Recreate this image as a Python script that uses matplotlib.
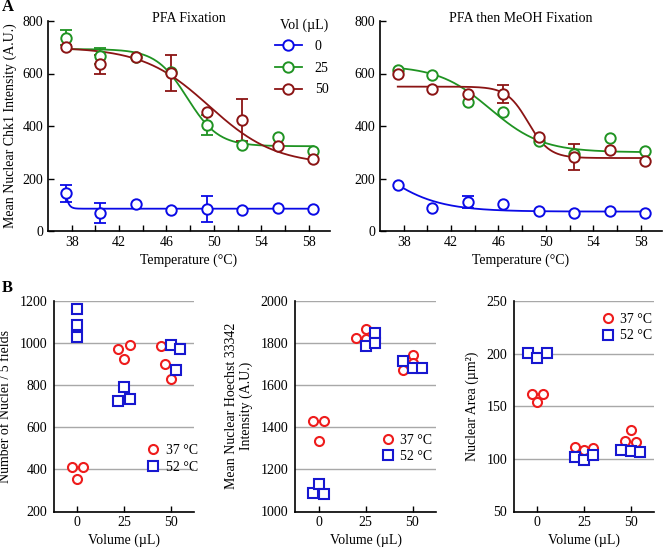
import numpy as np
import matplotlib
matplotlib.use("Agg")
import matplotlib.pyplot as plt
from matplotlib.lines import Line2D

plt.rcParams['font.family'] = ['Liberation Serif', 'DejaVu Serif']
plt.rcParams['font.size'] = 10

# ---- panel A data ----
temps = [37.5, 40.4, 43.4, 46.4, 49.4, 52.4, 55.4, 58.4]
vols = ['0', '25', '50']
colors_a = ['#0a0ae6', '#1f9322', '#8b1414']

# PFA fixation
pfa_mean = {
    '0': [144, 68, 104, 79, 85, 79, 86, 85],
    '25': [736, 667, 662, 605, 404, 326, 360, 303],
    '50': [701, 635, 662, 603, 452, 423, 324, 275],
}
pfa_err = {
    '0': [32, 38, 0, 0, 50, 0, 0, 0],
    '25': [28, 30, 0, 0, 37, 0, 0, 0],
    '50': [0, 37, 0, 68, 0, 80, 0, 0],
}
# Boltzmann fit parameters: top, bottom, Tm, slope
pfa_fit = {
    '0': [400, 85, 37.2, 0.2],
    '25': [693, 323, 47.74, 1.32],
    '50': [700, 252, 49.6, 2.8],
}

# PFA then MeOH fixation
meoh_mean = {
    '0': [176, 87, 110, 101, 75, 68, 75, 67],
    '25': [613, 594, 490, 455, 341, 295, 354, 303],
    '50': [597, 540, 521, 522, 360, 281, 307, 265],
}
meoh_err = {
    '0': [0, 0, 22, 0, 0, 0, 0, 0],
    '25': [0, 0, 0, 0, 0, 0, 0, 0],
    '50': [0, 0, 0, 35, 0, 50, 0, 0],
}
meoh_fit = {
    '0': [443, 74, 35.0, 2.6],
    '25': [630, 300, 45.3, 2.2],
    '50': [550, 278, 48.5, 0.9],
}

# ---- panel B data ----
nuc_x_37 = [-3, 3, 0, 22, 25, 28, 45, 47, 50]
nuc_37 = [410, 413, 354, 974, 926, 993, 988, 901, 828]
nuc_x_52 = [0, 0, 0, 22, 25, 28, 50, 53, 55]
nuc_52 = [1164, 1088, 1029, 725, 790, 733, 991, 874, 974]

hoe_x_37 = [-3, 3, 0, 20, 25, 25, 45, 50, 50]
hoe_37 = [1432, 1432, 1334, 1826, 1867, 1821, 1671, 1744, 1705]
hoe_x_52 = [-3, 0, 3, 25, 30, 30, 45, 50, 55]
hoe_52 = [1090, 1130, 1085, 1785, 1848, 1800, 1717, 1682, 1684]

area_x_37 = [-3, 0, 3, 20, 25, 30, 47, 50, 53]
area_37 = [161.8, 154.3, 161.8, 111.4, 108.3, 110.5, 117.4, 127.8, 116]
area_x_52 = [-5, 0, 5, 20, 25, 30, 45, 50, 55]
area_52 = [200.2, 195.5, 200.9, 102, 98.5, 104, 108, 107.6, 106.4]


def boltzmann(t, p):
    top, bottom, tm, s = p
    return bottom + (top - bottom) / (1 + np.exp((t - tm) / s))


fig = plt.figure(figsize=(6.63, 5.51), dpi=100)
W, H = 663.0, 551.0


def add_ax(l, r, top, bot):
    return fig.add_axes([l / W, 1 - bot / H, (r - l) / W, (bot - top) / H])


def panel_a(ax, means, errs, fits, title, ylabel=None, legend=False):
    t = np.array(temps)
    tt = np.linspace(t[0], t[-1], 300)
    for v, c in zip(vols, colors_a):
        ax.plot(tt, boltzmann(tt, fits[v]), color=c, lw=1.3, zorder=2)
        e = np.array(errs[v], dtype=float)
        m = e > 0
        if m.any():
            ax.errorbar(t[m], np.array(means[v])[m], yerr=e[m], fmt='none',
                        ecolor=c, elinewidth=1.3, capsize=4, capthick=1.3, zorder=3)
        ax.plot(t, means[v], 'o', ms=7.5, mfc='white', mec=c, mew=1.4,
                ls='none', zorder=4)
    ax.set_xlim(36, 59.8)
    ax.set_ylim(0, 800)
    ax.set_xticks([38, 42, 46, 50, 54, 58])
    ax.set_xticks([40, 44, 48, 52, 56], minor=True)
    ax.set_yticks([0, 200, 400, 600, 800])
    ax.tick_params(which='both', direction='in', length=4, width=1)
    ax.spines['top'].set_visible(False)
    ax.spines['right'].set_visible(False)
    for s in ['left', 'bottom']:
        ax.spines[s].set_linewidth(1.2)
    ax.set_xlabel('Temperature (°C)', labelpad=3)
    if ylabel:
        ax.set_ylabel(ylabel, labelpad=4)
    ax.text(0.5, 1.01, title, transform=ax.transAxes, ha='center', va='center')
    if legend:
        handles = [Line2D([], [], color=c, lw=1.3, marker='o', ms=7.5,
                          mfc='white', mec=c, mew=1.4) for c in colors_a]
        lg = ax.legend(handles, vols, title='Vol (µL)', frameon=False,
                       loc='upper right', bbox_to_anchor=(1.03, 1.06),
                       handlelength=2.0, handletextpad=0.9, labelspacing=0.62,
                       borderpad=0.2)
        lg._legend_box.align = 'right'


ax1 = add_ax(48, 330, 21, 231)
panel_a(ax1, pfa_mean, pfa_err, pfa_fit, 'PFA Fixation',
        ylabel='Mean Nuclear Chk1 Intensity (A.U.)', legend=True)
ax2 = add_ax(380, 662, 21, 231)
panel_a(ax2, meoh_mean, meoh_err, meoh_fit, 'PFA then MeOH Fixation')


def panel_b(ax, x37, y37, x52, y52, ylim, yticks, ylabel, leg_anchor):
    ax.plot(x37, y37, 'o', ms=6.5, mfc='white', mec='#ee1c1c', mew=1.5,
            ls='none', label='37 °C', zorder=3)
    ax.plot(x52, y52, 's', ms=7, mfc='white', mec='#1717d0', mew=1.5,
            ls='none', label='52 °C', zorder=3)
    ax.set_xlim(-12.5, 62.5)
    ax.set_ylim(*ylim)
    ax.set_yticks(yticks)
    ax.set_xticks([0, 25, 50])
    ax.yaxis.grid(True, color='#a8a8a8', lw=1)
    ax.set_axisbelow(True)
    ax.tick_params(axis='x', direction='in', length=4, width=1)
    ax.tick_params(axis='y', length=0, pad=5)
    ax.spines['top'].set_visible(False)
    ax.spines['right'].set_visible(False)
    for s in ['left', 'bottom']:
        ax.spines[s].set_linewidth(1.2)
    ax.set_xlabel('Volume (µL)', labelpad=3)
    ax.set_ylabel(ylabel, labelpad=5)
    ax.legend(frameon=False, loc='center left', bbox_to_anchor=leg_anchor,
              handlelength=1.0, handletextpad=0.4, labelspacing=0.25,
              borderpad=0.1)


b1 = add_ax(54, 194, 301, 511.5)
panel_b(b1, nuc_x_37, nuc_37, nuc_x_52, nuc_52, (200, 1200),
        [200, 400, 600, 800, 1000, 1200], 'Number of Nuclei / 5 fields',
        (0.6, 0.25))
b2 = add_ax(295, 436, 301, 511.5)
panel_b(b2, hoe_x_37, hoe_37, hoe_x_52, hoe_52, (1000, 2000),
        [1000, 1200, 1400, 1600, 1800, 2000],
        'Mean Nuclear Hoechst 33342\nIntensity (A.U.)', (0.55, 0.30))
b3 = add_ax(514, 654, 301, 511.5)
panel_b(b3, area_x_37, area_37, area_x_52, area_52, (50, 250),
        [50, 100, 150, 200, 250], 'Nuclear Area (µm²)', (0.56, 0.873))

fig.text(2 / W, 1 - 7 / H, 'A', fontsize=12, fontweight='bold', va='center')
fig.text(2 / W, 1 - 288 / H, 'B', fontsize=12, fontweight='bold', va='center')

fig.savefig('out.png', dpi=100)
